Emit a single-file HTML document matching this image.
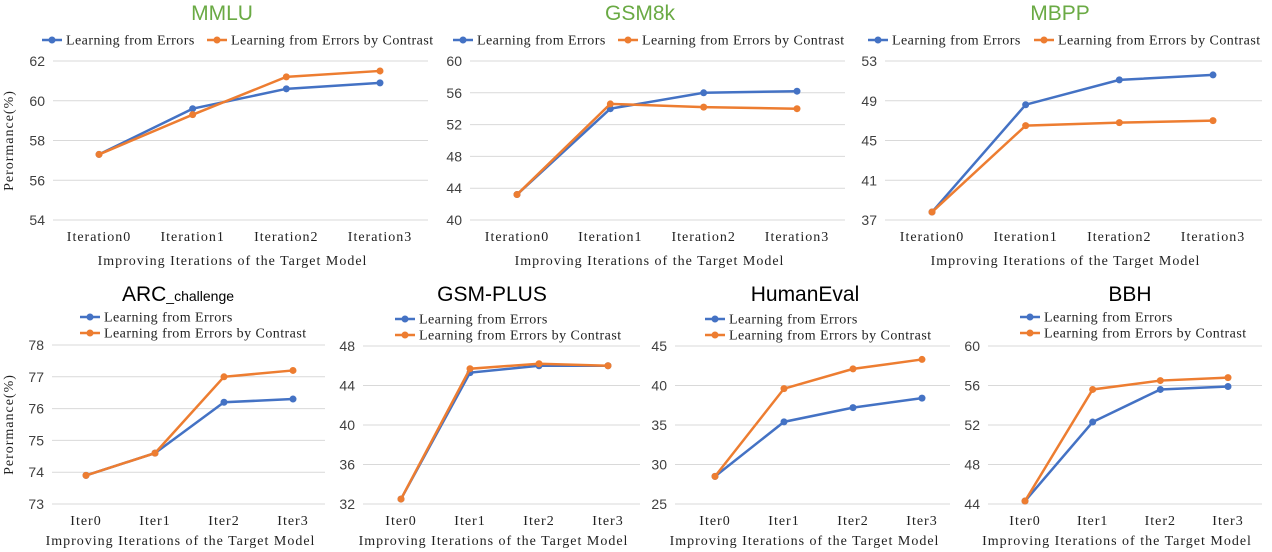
<!DOCTYPE html>
<html><head><meta charset="utf-8"><style>
html,body{margin:0;padding:0;background:#fff;}
svg{display:block;}
.tk{font-family:"Liberation Sans",sans-serif;font-size:14px;fill:#404040;}
.sf{font-family:"Liberation Serif",serif;font-size:14px;letter-spacing:1px;fill:#222;}
.lg{font-family:"Liberation Serif",serif;font-size:14px;letter-spacing:0.45px;fill:#222;}
</style></head><body>
<svg id="c" width="1272" height="552" viewBox="0 0 1272 552"></svg>
<script>
const titles=["MMLU","GSM8k","MBPP","ARC","GSM-PLUS","HumanEval","BBH"];
const catsTop=["Iteration0","Iteration1","Iteration2","Iteration3"];
const catsBot=["Iter0","Iter1","Iter2","Iter3"];
const blueMMLU=[57.3,59.6,60.6,60.9], orangeMMLU=[57.3,59.3,61.2,61.5], ticksMMLU=[54,56,58,60,62];
const blueGSM8k=[43.2,54.0,56.0,56.2], orangeGSM8k=[43.2,54.6,54.2,54.0], ticksGSM8k=[40,44,48,52,56,60];
const blueMBPP=[37.8,48.6,51.1,51.6], orangeMBPP=[37.8,46.5,46.8,47.0], ticksMBPP=[37,41,45,49,53];
const blueARC=[73.9,74.6,76.2,76.3], orangeARC=[73.9,74.6,77.0,77.2], ticksARC=[73,74,75,76,77,78];
const bluePLUS=[32.5,45.3,46.0,46.0], orangePLUS=[32.5,45.7,46.2,46.0], ticksPLUS=[32,36,40,44,48];
const blueHE=[28.5,35.4,37.2,38.4], orangeHE=[28.5,39.6,42.1,43.3], ticksHE=[25,30,35,40,45];
const blueBBH=[44.3,52.3,55.6,55.9], orangeBBH=[44.3,55.6,56.5,56.8], ticksBBH=[44,48,52,56,60];

const NS="http://www.w3.org/2000/svg", svg=document.getElementById('c');
function mk(tag,at,parent,txt){const e=document.createElementNS(NS,tag);for(const k in at)e.setAttribute(k,at[k]);if(txt!==undefined)e.textContent=txt;(parent||svg).appendChild(e);return e;}
const BLUE="#4472c4", ORANGE="#ed7d31";
const layouts=[
 {key:"mmlu",title:0,cats:catsTop,b:blueMMLU,o:orangeMMLU,t:ticksMMLU,x0:53,x1:428,yT:61,yB:220,c0:99,c3:380,tx:222,ty:20,green:true,leg:"row",lx:[42,207],ly:40,ylab:true,xl:241,xt:265},
 {key:"gsm8k",title:1,cats:catsTop,b:blueGSM8k,o:orangeGSM8k,t:ticksGSM8k,x0:470,x1:845,yT:61,yB:220,c0:517,c3:797,tx:640,ty:20,green:true,leg:"row",lx:[453,618],ly:40,xl:241,xt:265},
 {key:"mbpp",title:2,cats:catsTop,b:blueMBPP,o:orangeMBPP,t:ticksMBPP,x0:885,x1:1262,yT:61,yB:220,c0:932,c3:1213,tx:1060,ty:20,green:true,leg:"row",lx:[868,1034],ly:40,xl:241,xt:265},
 {key:"arc",title:3,cats:catsBot,b:blueARC,o:orangeARC,t:ticksARC,x0:52,x1:325,yT:345,yB:504,c0:86,c3:293,tx:178,ty:301,leg:"col",lx:[80],ly:317,ylab:true,xl:525,xt:545},
 {key:"gsmplus",title:4,cats:catsBot,b:bluePLUS,o:orangePLUS,t:ticksPLUS,x0:363,x1:640,yT:346,yB:504,c0:401,c3:608,tx:492,ty:301,leg:"col",lx:[395],ly:319,xl:525,xt:545},
 {key:"humaneval",title:5,cats:catsBot,b:blueHE,o:orangeHE,t:ticksHE,x0:675,x1:950,yT:346,yB:504,c0:715,c3:922,tx:805,ty:301,leg:"col",lx:[705],ly:319,xl:525,xt:545},
 {key:"bbh",title:6,cats:catsBot,b:blueBBH,o:orangeBBH,t:ticksBBH,x0:988,x1:1262,yT:346,yB:504,c0:1025,c3:1228,tx:1130,ty:301,leg:"col",lx:[1020],ly:317,xl:525,xt:545}
];
layouts.forEach(L=>{
 const g=mk('g',{});
 
 
 const tmin=L.t[0], tmax=L.t[L.t.length-1];
 const y=v=>L.yB-(v-tmin)/(tmax-tmin)*(L.yB-L.yT);
 const x=i=>L.c0+i*(L.c3-L.c0)/(L.cats.length-1);
 let tt;
 if(L.title===3){
  tt=mk('text',{x:L.tx,y:L.ty,'text-anchor':'middle','font-family':'Liberation Sans, sans-serif','font-size':21,fill:'#000'},g);
  mk('tspan',{},tt,'ARC');
  mk('tspan',{'font-size':14},tt,'_challenge');
 } else {
  tt=mk('text',{x:L.tx,y:L.ty,'text-anchor':'middle','font-family':'Liberation Sans, sans-serif','font-size':21,fill:L.green?'#6aaa44':'#000'},g,titles[L.title]);
 }
 
 
 L.t.forEach(v=>{
  const gl=mk('line',{x1:L.x0,x2:L.x1,y1:y(v),y2:y(v),stroke:'#d9d9d9','stroke-width':1},g);
  
  
  const tl=mk('text',{x:L.x0-8,y:y(v)+5,'text-anchor':'end',class:'tk'},g,String(v));
  
  
 });
 L.cats.forEach((c,i)=>{
  const cl=mk('text',{x:x(i),y:L.xl,'text-anchor':'middle',class:'sf'},g,c);
  
  
 });
 const at=mk('text',{x:(L.x0+L.x1)/2-8,y:L.xt,'text-anchor':'middle',class:'sf'},g,'Improving Iterations of the Target Model');
 
 
 if(L.ylab){
  const cy=(L.yT+L.yB)/2;
  const yl=mk('text',{x:13,y:cy,'text-anchor':'middle',class:'sf',transform:`rotate(-90 13 ${cy})`},g,'Perormance(%)');
  
  
 }
 [[L.b,BLUE,'blue'],[L.o,ORANGE,'orange']].forEach(([arr,col,nm])=>{
  const pts=arr.map((v,i)=>x(i)+','+y(v)).join(' ');
  const pl=mk('polyline',{points:pts,fill:'none',stroke:col,'stroke-width':2.5},g);
  
  
  arr.forEach((v,i)=>{
   const c=mk('circle',{cx:x(i),cy:y(v),r:3.5,fill:col},g);
   
   
  });
 });
 const labels=['Learning from Errors','Learning from Errors by Contrast'],cols=[BLUE,ORANGE];
 labels.forEach((lab,i)=>{
  const lx=L.leg==='row'?L.lx[i]:L.lx[0];
  const ly=L.leg==='row'?L.ly:L.ly+i*16;
  const lg=mk('g',{},g);
  
  
  mk('line',{x1:lx,x2:lx+20,y1:ly,y2:ly,stroke:cols[i],'stroke-width':2.5},lg);
  mk('circle',{cx:lx+10,cy:ly,r:3.5,fill:cols[i]},lg);
  mk('text',{x:lx+24,y:ly+4.5,class:'lg'},lg,lab);
 });
});
</script>
</body></html>
